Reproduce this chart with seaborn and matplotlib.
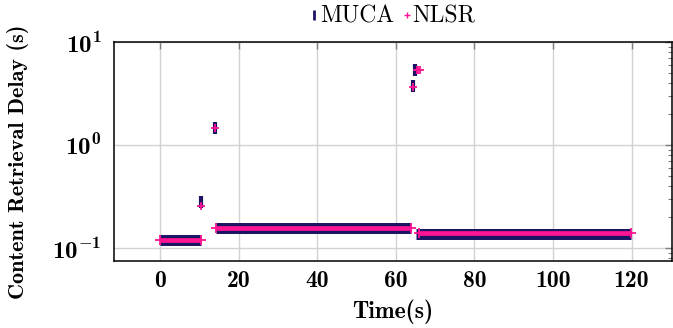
import numpy as np
import pandas as pd
import seaborn as sns
import matplotlib.pyplot as plt
from matplotlib.lines import Line2D
from matplotlib.ticker import FixedLocator, FixedFormatter, LogLocator, NullFormatter

# steady phases (start, end, delay)
muca_seg_start = [0.0, 14.1, 65.1]
muca_seg_end = [10.3, 63.9, 119.8]
muca_seg_delay = [0.120, 0.157, 0.138]

nlsr_seg_start = [0.0, 14.1, 65.8]
nlsr_seg_end = [10.3, 63.9, 119.8]
nlsr_seg_delay = [0.120, 0.157, 0.139]

# isolated spikes
muca_spike_time = [10.3, 13.9, 64.4, 64.9]
muca_spike_delay = [0.28, 1.48, 3.71, 5.38]
nlsr_spike_time = [10.3, 13.9, 64.4, 65.4, 65.7, 66.0]
nlsr_spike_delay = [0.258, 1.47, 3.67, 5.35, 5.35, 5.33]

x_ticks = [0, 20, 40, 60, 80, 100, 120]
y_ticks = [0.1, 1, 10]
y_tick_labels = [r'$10^{-1}$', r'$10^{0}$', r'$10^{1}$']

MUCA_COLOR = '#1b1464'
NLSR_COLOR = '#ff1493'


def segments_frame(starts, ends, delays, name):
    rows = []
    for i, (s, e, d) in enumerate(zip(starts, ends, delays)):
        rows.append({'time': s, 'delay': d, 'seg': i, 'proto': name})
        rows.append({'time': e, 'delay': d, 'seg': i, 'proto': name})
    return pd.DataFrame(rows)


def main():
    sns.set_style('white')
    plt.rcParams['mathtext.fontset'] = 'custom'
    plt.rcParams['mathtext.rm'] = 'cmb10'
    plt.rcParams['mathtext.bf'] = 'cmb10'
    plt.rcParams['mathtext.it'] = 'cmb10'
    plt.rcParams['axes.unicode_minus'] = False
    plt.rcParams['text.color'] = 'black'
    plt.rcParams['axes.labelcolor'] = 'black'

    df_muca = segments_frame(muca_seg_start, muca_seg_end, muca_seg_delay, 'MUCA')
    df_nlsr = segments_frame(nlsr_seg_start, nlsr_seg_end, nlsr_seg_delay, 'NLSR')

    fig = plt.figure(figsize=(6.73, 3.28), dpi=100)
    ax = fig.add_axes([0.1694, 0.205, 0.8291, 0.667])

    # steady phases as thick bands
    sns.lineplot(data=df_muca, x='time', y='delay', units='seg', estimator=None,
                 color=MUCA_COLOR, lw=7.9, solid_capstyle='butt', ax=ax, zorder=3)
    sns.lineplot(data=df_nlsr, x='time', y='delay', units='seg', estimator=None,
                 color=NLSR_COLOR, lw=3.4, solid_capstyle='butt', marker='+',
                 markersize=7, markeredgewidth=1.3, markeredgecolor=NLSR_COLOR,
                 ax=ax, zorder=4)

    # spikes
    ax.plot(muca_spike_time, muca_spike_delay, ls='none', marker='|',
            markersize=8, markeredgewidth=3.0, color=MUCA_COLOR, zorder=5)
    ax.plot(nlsr_spike_time, nlsr_spike_delay, ls='none', marker='+',
            markersize=6, markeredgewidth=1.3, color=NLSR_COLOR, zorder=6)

    ax.set_yscale('log')
    ax.set_xlim(-11.8, 130.3)
    ax.set_ylim(0.0755, 10)

    ax.xaxis.set_major_locator(FixedLocator(x_ticks))
    ax.set_xticklabels([str(t) for t in x_ticks], fontfamily='cmb10', fontsize=17)
    ax.yaxis.set_major_locator(FixedLocator(y_ticks))
    ax.yaxis.set_major_formatter(FixedFormatter(y_tick_labels))
    ax.yaxis.set_minor_locator(LogLocator(base=10, subs=np.arange(2, 10)))
    ax.yaxis.set_minor_formatter(NullFormatter())
    for lab in ax.get_yticklabels():
        lab.set_fontsize(18)

    ax.grid(True, which='major', color='#d2d2d2', lw=1.0, zorder=0)
    ax.tick_params(which='both', direction='in', top=True, right=True,
                   color='#7f7f7f', labelcolor='black')
    ax.tick_params(which='major', length=5, width=1.0)
    ax.tick_params(which='minor', length=3, width=0.8)
    ax.tick_params(axis='x', pad=7)
    ax.tick_params(axis='y', pad=9)
    for sp in ax.spines.values():
        sp.set_color('black')
        sp.set_linewidth(1.1)

    ax.set_xlabel('Time(s)', fontfamily='cmb10', fontsize=17, labelpad=5)
    ax.set_ylabel('Content Retrieval Delay (s)', fontfamily='cmb10', fontsize=16)
    ax.yaxis.set_label_coords(-0.152, 0.45)

    handles = [
        Line2D([], [], ls='none', marker='|', markersize=7, markeredgewidth=2,
               color=MUCA_COLOR),
        Line2D([], [], ls='none', marker='+', markersize=5, markeredgewidth=1.0,
               color=NLSR_COLOR),
    ]
    ax.legend(handles, ['MUCA', 'NLSR'], loc='lower center',
              bbox_to_anchor=(0.5, 1.0), ncol=2, frameon=False,
              prop={'family': 'cmr10', 'size': 17}, handlelength=0.3,
              handletextpad=0.1, columnspacing=0.4, borderaxespad=0.2)

    fig.savefig('out.png', dpi=100)


if __name__ == '__main__':
    main()
